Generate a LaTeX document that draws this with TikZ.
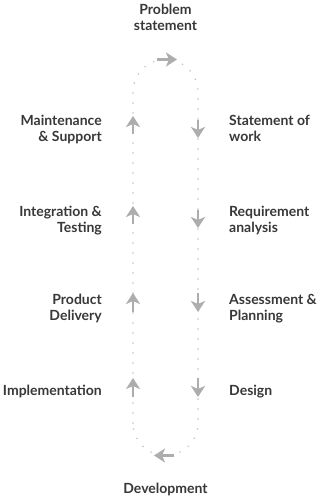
\documentclass[tikz,border=0pt]{standalone}
\usepackage{fontspec}
\setmainfont{Lato}
\usepackage{xcolor}
\usetikzlibrary{positioning, arrows.meta}

\definecolor{labelgray}{HTML}{383838}
\definecolor{flowgray}{HTML}{ADADAD}
\definecolor{dotgray}{HTML}{C4C4C4}

\begin{document}
\begin{tikzpicture}[x=1pt, y=1pt,
        stage/.style={font=\bfseries\fontsize{14}{16}\selectfont, text=labelgray, inner sep=0pt},
        leftstage/.style={stage, align=right, anchor=base east},
        rightstage/.style={stage, align=left, anchor=base west},
        loopline/.style={draw=dotgray, line width=1.8pt, line cap=round, dash pattern=on 0pt off 10pt},
        flow/.style={draw=flowgray, line width=2.5pt, -{Stealth[length=11pt, width=14pt, inset=3pt]}}
    ]
        \useasboundingbox[fill=white] (0,0) rectangle (321,497);

        % corners of the loop
        \coordinate (lefttop) at (133,405);
        \coordinate (righttop) at (198,405);
        \coordinate (rightbot) at (198,74);
        \coordinate (leftbot) at (133,74);

        \node[stage, align=center, anchor=base] (problem) at (165.5,466) {Problem\\statement};
        \node[stage, anchor=base] (develop) at (165.5,4) {Development};

        \node[leftstage] (maint) at (102,355) {Maintenance\\\& Support};
        \node[leftstage] (integr) at (102,264) {Integration \&\\Testing};
        \node[leftstage] (delivery) at (102,176) {Product\\Delivery};
        \node[leftstage] (impl) at (102,101) {Implementation};

        \node[rightstage] (statement) at (229,355) {Statement of\\work};
        \node[rightstage] (require) at (229,264) {Requirement\\analysis};
        \node[rightstage] (assess) at (229,176) {Assessment \&\\Planning};
        \node[rightstage] (design) at (229,101) {Design};

        \draw[loopline] (leftbot) -- (lefttop) arc[start angle=180, end angle=0, radius=32.5]
            -- (rightbot) arc[start angle=0, end angle=-180, radius=32.5];

        % direction marks
        \draw[flow] (157,437.5) -- ++(20,0);
        \draw[flow] (174,41.5) -- ++(-20,0);
        \draw[flow] (righttop |- 0,377) -- ++(0,-18);
        \draw[flow] (righttop |- 0,287) -- ++(0,-18);
        \draw[flow] (righttop |- 0,204) -- ++(0,-19);
        \draw[flow] (righttop |- 0,119) -- ++(0,-19);
        \draw[flow] (lefttop |- 0,363) -- ++(0,18);
        \draw[flow] (lefttop |- 0,273) -- ++(0,18);
        \draw[flow] (lefttop |- 0,185) -- ++(0,19);
        \draw[flow] (lefttop |- 0,100) -- ++(0,19);
    \end{tikzpicture}
\end{document}
